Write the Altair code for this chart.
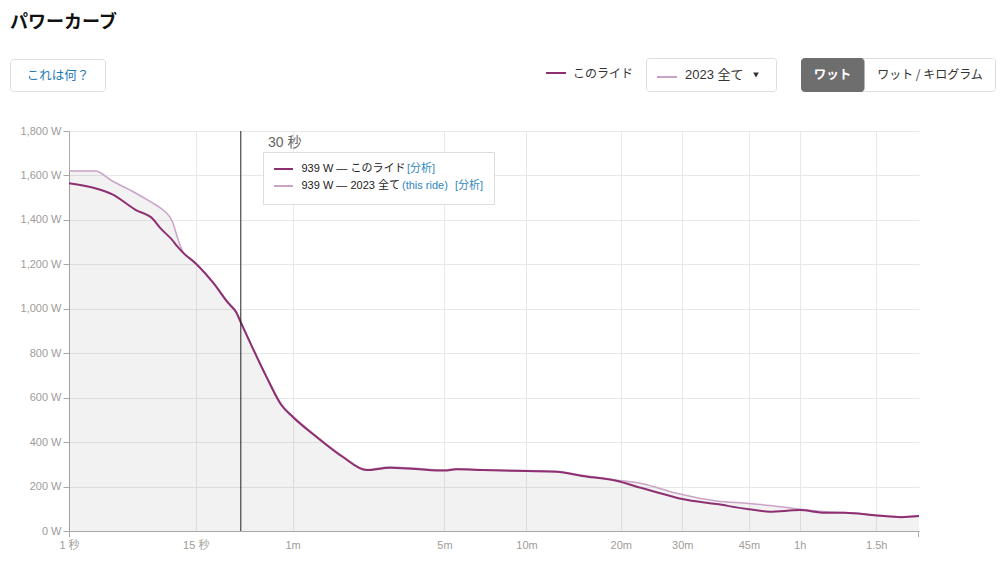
import altair as alt
import pandas as pd

# ---------------- data ----------------
times = [1, 2, 3, 5, 7, 8, 10, 11, 12, 15, 20, 25, 28, 30, 43, 52, 60, 80, 108, 140,
         178, 229, 300, 334, 420, 600, 755, 915, 1155, 1391, 1717, 1800, 2226, 2700,
         3043, 3600, 4136, 4586, 5400, 6121, 6680]
ride_w = [1565, 1542, 1515, 1444, 1404, 1365, 1310, 1280, 1255, 1204, 1114, 1025, 985, 939,
          690, 567, 514, 424, 334, 274, 285, 279, 272, 278, 274, 270, 267, 248, 227, 192,
          152, 144, 121, 98, 87, 94, 82, 82, 70, 62, 67]
year_w = [1620, 1620, 1575, 1520, 1475, 1455, 1395, 1320, 1260, 1206, 1116, 1028, 988, 939,
          695, 572, 518, 428, 338, 277, 288, 282, 275, 280, 276, 272, 269, 251, 230, 213,
          172, 164, 135, 124, 115, 98, 87, 83, 72, 64, 70]

tick_secs = [1, 15, 60, 300, 600, 1200, 1800, 2700, 3600, 5400]
tick_labels = ["1 秒", "15 秒", "1m", "5m", "10m", "20m", "30m", "45m", "1h", "1.5h"]
y_ticks = [0, 200, 400, 600, 800, 1000, 1200, 1400, 1600, 1800]
cursor_t = [30]
cursor_label = "30 秒"
ride_name = "このライド"
year_name = "2023 全て"
cursor_ride = 939
cursor_year = 939

DARK = "#8e2f72"
LIGHT = "#caa3c7"
FONT = "Liberation Sans, Noto Sans CJK JP"
JFONT = "Noto Sans CJK JP"

df = pd.DataFrame({"t": times, "ride": ride_w, "year": year_w})

# plot origin in page coordinates
OX, OY = 69, 131
W, H = 850, 400

label_expr = ""
for s, l in zip(tick_secs, tick_labels):
    label_expr += f"datum.value == {s} ? '{l}' : "
label_expr += "''"

xscale = alt.Scale(type="pow", exponent=0.2, domain=[1, 6680], nice=False, zero=False)
yscale = alt.Scale(domain=[0, 1800], nice=False, zero=True)

xaxis = alt.Axis(values=tick_secs, labelExpr=label_expr, title=None, grid=True,
                 ticks=False, labelPadding=8, labelColor="#a09c98", labelFontSize=11,
                 labelFont=FONT, domainColor="#a8a8a8", gridColor="#e8e8e8",
                 labelFlush=False, labelOverlap=False)
yaxis = alt.Axis(values=y_ticks, labelExpr="format(datum.value, ',') + ' W'", title=None,
                 grid=True, tickSize=6, tickColor="#a8a8a8", domainColor="#a8a8a8",
                 labelColor="#a09c98", labelFontSize=11, labelFont=FONT, labelPadding=2,
                 gridColor="#e8e8e8")

X = alt.X("t:Q", scale=xscale, axis=xaxis)

area = alt.Chart(df).mark_area(color="#000", opacity=0.05, interpolate="monotone").encode(
    x=X, y=alt.Y("year:Q", scale=yscale, axis=yaxis))
line_year = alt.Chart(df).mark_line(color=LIGHT, strokeWidth=1.5, interpolate="monotone").encode(
    x=X, y=alt.Y("year:Q", scale=yscale, axis=yaxis))
line_ride = alt.Chart(df).mark_line(color=DARK, strokeWidth=2, interpolate="monotone").encode(
    x=X, y=alt.Y("ride:Q", scale=yscale, axis=yaxis))

cur_df = pd.DataFrame({"t": cursor_t})
cursor = alt.Chart(cur_df).mark_rule(color="#222", strokeWidth=1).encode(
    x=alt.X("t:Q", scale=xscale, axis=xaxis), y=alt.value(0), y2=alt.value(H))

dummy = pd.DataFrame({"a": [0]})


def txt(s, x, y, size=12, color="#333", weight="normal", align="left", font=FONT):
    return alt.Chart(dummy).mark_text(text=s, fontSize=size, color=color, fontWeight=weight,
                                      align=align, baseline="middle", font=font).encode(
        x=alt.value(x - OX), y=alt.value(y - OY))


def box(x1, y1, x2, y2, fill="#fff", stroke="#dcdde2", radius=3):
    return alt.Chart(dummy).mark_rect(fill=fill, stroke=stroke, strokeWidth=1,
                                      cornerRadius=radius).encode(
        x=alt.value(x1 - OX), x2=alt.value(x2 - OX), y=alt.value(y1 - OY), y2=alt.value(y2 - OY))


def hline(x1, x2, y, color, width=2):
    return alt.Chart(dummy).mark_rule(color=color, strokeWidth=width).encode(
        x=alt.value(x1 - OX), x2=alt.value(x2 - OX), y=alt.value(y - OY))


def vline(x, y1, y2, color="#a8a8a8"):
    return alt.Chart(dummy).mark_rule(color=color, strokeWidth=1).encode(
        x=alt.value(x - OX), y=alt.value(y1 - OY), y2=alt.value(y2 - OY))


BLUE = "#2f86bd"

decor = [
    # end ticks of x-axis
    vline(OX + 0.5, OY + H, OY + H + 6),
    vline(OX + W - 0.5, OY + H, OY + H + 6),
    # header
    txt("パワーカーブ", 10, 23, size=18, color="#111", weight="bold", font=JFONT),
    box(10.5, 59.5, 105.5, 91.5),
    txt("これは何？", 58, 75.5, size=12.5, color="#1f7ab6", align="center", font=JFONT),
    hline(546, 566, 73, DARK, 2),
    txt(ride_name, 573, 73.5, size=12, color="#333", font=JFONT),
    box(646.5, 58.5, 776.5, 91.5),
    hline(657, 677, 77, LIGHT, 2),
    txt(year_name, 685, 74.5, size=13, color="#333", font=FONT),
    alt.Chart(dummy).mark_point(shape="triangle-down", filled=True, size=32, color="#333",
                                opacity=1).encode(x=alt.value(756 - OX), y=alt.value(75 - OY)),
    box(801.5, 58.5, 995.5, 91.5),
    box(801.5, 58.5, 864, 91.5, fill="#6e6e6e", stroke="#6e6e6e"),
    txt("ワット", 832.5, 74.5, size=12.5, color="#fff", weight="bold", align="center", font=JFONT),
    txt("ワット / キログラム", 930, 74.5, size=12, color="#333", align="center", font=JFONT),
    # tooltip
    txt(cursor_label, 268, 142.5, size=14, color="#666"),
    box(263.5, 152.5, 494.5, 204.5, radius=0, stroke="#dddddd"),
    hline(274, 293, 169, DARK, 2),
    hline(274, 293, 186, LIGHT, 2),
    txt(f"{cursor_ride} W — {ride_name}", 301.5, 169, size=11, color="#222"),
    txt("[分析]", 407, 169, size=11, color=BLUE),
    txt(f"{cursor_year} W — {year_name}", 301.5, 186, size=11, color="#222"),
    txt("(this ride)", 402, 186, size=11, color=BLUE),
    txt("[分析]", 455, 186, size=11, color=BLUE),
]

chart = alt.layer(area, line_year, line_ride, cursor, *decor).properties(
    width=W, height=H,
    autosize=alt.AutoSizeParams(type="none"),
    padding={"left": OX - 8, "top": OY - 8, "right": 1005 - 16 - (OX - 8) - W,
             "bottom": 577 - 16 - (OY - 8) - H},
    background="#ffffff",
).configure_view(stroke=None)

chart.save("out.html", embed_options={"renderer": "svg", "actions": False})
